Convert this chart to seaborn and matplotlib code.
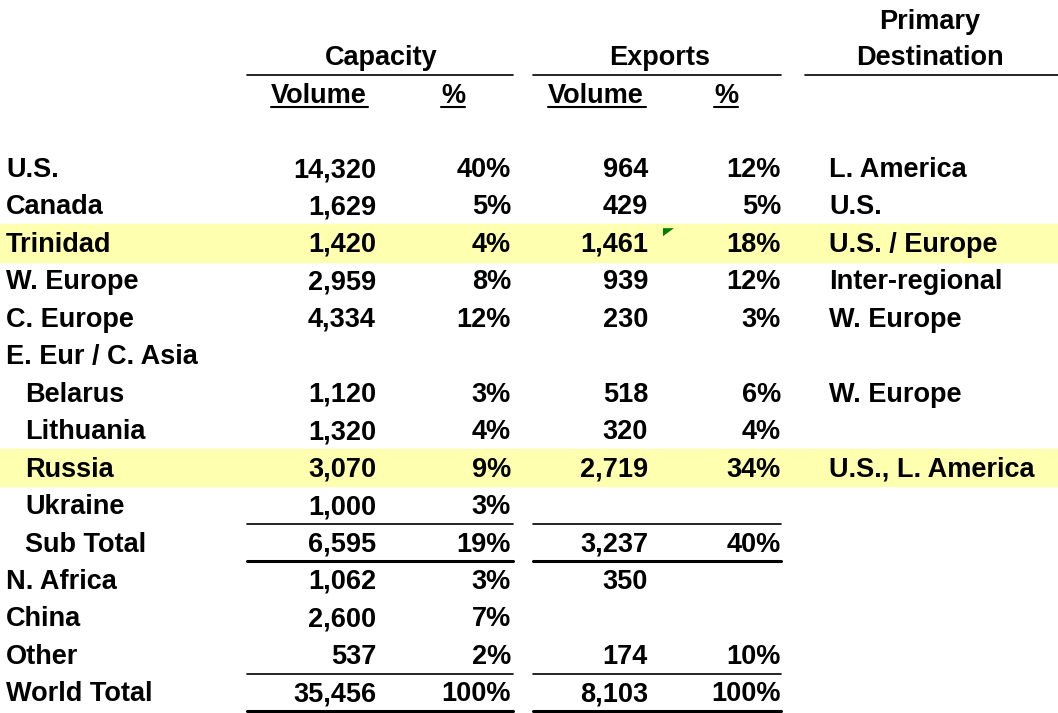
import matplotlib
matplotlib.use("Agg")
import matplotlib.pyplot as plt
import seaborn as sns

# table data
regions = ["U.S.", "Canada", "Trinidad", "W. Europe", "C. Europe", "E. Eur / C. Asia",
           "Belarus", "Lithuania", "Russia", "Ukraine", "Sub Total",
           "N. Africa", "China", "Other", "World Total"]
indented = [False, False, False, False, False, False,
            True, True, True, True, True,
            False, False, False, False]
cap_volume = [14320, 1629, 1420, 2959, 4334, None, 1120, 1320, 3070, 1000, 6595,
              1062, 2600, 537, 35456]
cap_pct = [40, 5, 4, 8, 12, None, 3, 4, 9, 3, 19, 3, 7, 2, 100]
exp_volume = [964, 429, 1461, 939, 230, None, 518, 320, 2719, None, 3237,
              350, None, 174, 8103]
exp_pct = [12, 5, 18, 12, 3, None, 6, 4, 34, None, 40, None, None, 10, 100]
destination = ["L. America", "U.S.", "U.S. / Europe", "Inter-regional", "W. Europe", "",
               "W. Europe", "", "U.S., L. America", "", "", "", "", "", ""]
highlight = ["Trinidad", "Russia"]

sns.set_theme(style="white")
plt.rcParams["font.family"] = ["Liberation Sans", "DejaVu Sans"]

W, H = 1058, 713
fig = plt.figure(figsize=(W / 100, H / 100), dpi=100)
ax = fig.add_axes([0, 0, 1, 1])
ax.set_xlim(0, W)
ax.set_ylim(H, 0)
ax.axis("off")

fs = 19.5
kw = dict(fontsize=fs, fontweight="bold", color="black", va="baseline")

row0, step = 168, 37.45
off = 9  # centre -> baseline


def fmt_num(v):
    return "" if v is None else f"{v:,}"


def fmt_pct(v):
    return "" if v is None else f"{v}%"


# highlight bands
for i, r in enumerate(regions):
    y = row0 + i * step
    if r in highlight:
        ax.axhspan(y - step / 2, y + step / 2, xmin=0, xmax=1, color="#FFFFB0", zorder=0)

# headers
ax.text(930, 20 + off, "Primary", ha="center", **kw)
ax.text(381, 56 + off, "Capacity", ha="center", **kw)
ax.text(660, 56 + off, "Exports", ha="center", **kw)
ax.text(930, 56 + off, "Destination", ha="center", **kw)
for x0, x1 in [(247, 513), (533, 781), (805, 1058)]:
    ax.plot([x0, x1], [75, 75], color="black", lw=1.2)

ax.text(271, 94 + off, "Volume", ha="left", **kw)
ax.text(441, 94 + off, "%", ha="left", **kw)
ax.text(548, 94 + off, "Volume", ha="left", **kw)
ax.text(714, 94 + off, "%", ha="left", **kw)
for x0, x1 in [(271, 368), (441, 465), (548, 646), (714, 738)]:
    ax.plot([x0, x1], [107, 107], color="black", lw=1.5)

# rows
for i, r in enumerate(regions):
    y = row0 + i * step + off
    ax.text(25 if indented[i] else 6, y, r, ha="left", **kw)
    ax.text(376, y, fmt_num(cap_volume[i]), ha="right", **kw)
    ax.text(511, y, fmt_pct(cap_pct[i]), ha="right", **kw)
    ax.text(648, y, fmt_num(exp_volume[i]), ha="right", **kw)
    ax.text(781, y, fmt_pct(exp_pct[i]), ha="right", **kw)
    ax.text(829, y, destination[i], ha="left", **kw)

# comment marker next to Trinidad exports
ti = regions.index("Trinidad")
ty = row0 + ti * step - step / 2 + 4
ax.fill([663, 674, 663], [ty, ty, ty + 8], color="#008000", lw=0)

# rule lines around the totals
si = regions.index("Sub Total")
wi = regions.index("World Total")
for x0, x1 in [(247, 513), (533, 781)]:
    ax.plot([x0, x1], [row0 + si * step - step / 2, row0 + si * step - step / 2], color="black", lw=1.2)
    ax.plot([x0, x1], [row0 + si * step + step / 2, row0 + si * step + step / 2], color="black", lw=2.2)
    ax.plot([x0, x1], [row0 + wi * step - step / 2, row0 + wi * step - step / 2], color="black", lw=1.2)
    ax.plot([x0, x1], [row0 + wi * step + step / 2, row0 + wi * step + step / 2], color="black", lw=2.2)

fig.savefig("out.png", dpi=100, facecolor="white")
